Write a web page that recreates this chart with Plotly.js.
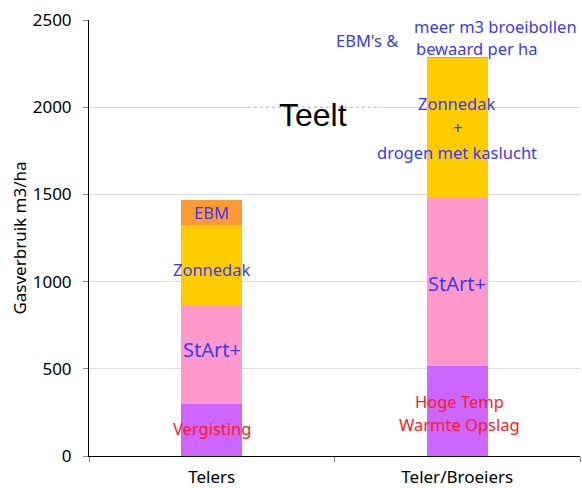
<!DOCTYPE html>
<html>
<head>
<meta charset="utf-8">
<script src="https://cdn.plot.ly/plotly-3.0.1.min.js"></script>
<style>html,body{margin:0;padding:0;background:#fff;}#chart{width:582px;height:488px;}</style>
</head>
<body>
<div id="chart"></div>
<script>
// Data
const categories = ['Telers', 'Teler/Broeiers'];
const basis = [300, 515];        // Vergisting / Hoge Temp Warmte Opslag
const startPlus = [560, 965];    // StArt+
const zonnedak = [465, 805];     // Zonnedak (+ drogen met kaslucht)
const ebm = [145, 5];            // EBM / EBM's & meer m3 broeibollen
const yTicks = [0, 500, 1000, 1500, 2000, 2500];

const FONT = 'Noto Sans, Open Sans, sans-serif';
const BLUE = '#3a3af5';
const RED = '#ff1a1a';

function bar(name, vals, color) {
  return {type: 'bar', name: name, x: categories, y: vals, width: 0.25,
    marker: {color: color, line: {width: 0}}, hoverinfo: 'skip'};
}

const data = [
  bar('Basis', basis, '#cc66ff'),
  bar('StArt+', startPlus, '#ff99cc'),
  bar('Zonnedak', zonnedak, '#ffcc00'),
  bar('EBM', ebm, '#ff9933')
];

function ann(text, x, y, size, color, opts) {
  return Object.assign({text: text, x: x, y: y, xref: 'x', yref: 'y', showarrow: false,
    font: {family: FONT, size: size, color: color}}, opts || {});
}

const annotations = [
  ann('EBM', 0, 1399, 16.5, BLUE),
  ann('Zonnedak', 0, 1067, 16.5, BLUE),
  ann('StArt+', 0, 608, 20, BLUE),
  ann('Vergisting', 0, 155, 16.5, RED),
  ann('Hoge Temp', 1.01, 310, 16.5, RED),
  ann('Warmte Opslag', 1.01, 183, 16.5, RED),
  ann('StArt+', 1.0, 992, 20, BLUE),
  ann('Zonnedak', 1.0, 2020, 16.5, BLUE),
  ann('+', 1.0, 1881, 16.5, BLUE),
  ann('drogen met kaslucht', 1.0, 1743, 16.5, BLUE),
  ann("EBM's &amp;", 0.635, 2380, 16.5, BLUE),
  ann('meer m3 broeibollen', 1.157, 2460, 16.5, BLUE),
  ann('bewaard per ha', 0.823, 2334, 16.5, BLUE, {xanchor: 'left'}),
  ann('Teelt', 0.413, 1953, 32, '#000', {font: {family: 'Liberation Sans, Arial, sans-serif', size: 32, color: '#000'}})
];

const layout = {
  width: 582, height: 488,
  margin: {l: 89, r: 2, t: 20, b: 32, pad: 0},
  paper_bgcolor: '#fff', plot_bgcolor: '#fff',
  barmode: 'stack',
  showlegend: false,
  font: {family: FONT, size: 17, color: '#000'},
  xaxis: {
    type: 'category', range: [-0.5, 1.5], tickson: 'boundaries',
    ticks: 'outside', ticklen: 5, tickcolor: '#888', tickwidth: 1,
    showline: true, linecolor: '#000', linewidth: 1,
    showgrid: false, zeroline: false,
    tickfont: {family: FONT, size: 17, color: '#000'},
    ticklabelstandoff: 6, automargin: false
  },
  yaxis: {
    range: [0, 2500], tickvals: yTicks, ticktext: yTicks.map(String),
    ticks: 'outside', ticklen: 5, tickcolor: '#888', tickwidth: 1,
    showline: true, linecolor: '#000', linewidth: 1,
    showgrid: true, gridcolor: '#dcdcdc', gridwidth: 1, zeroline: false,
    tickfont: {family: FONT, size: 17, color: '#000'},
    ticklabelstandoff: 8,
    title: {text: 'Gasverbruik m3/ha', font: {family: FONT, size: 17, color: '#000'}, standoff: 1},
    automargin: false
  },
  annotations: annotations,
  shapes: [
    {type: 'line', xref: 'x', yref: 'y', x0: 0.147, x1: 0.676, y0: 2000, y1: 2000,
      line: {color: '#ffffff', width: 2}, layer: 'above'},
    {type: 'line', xref: 'x', yref: 'y', x0: 0.147, x1: 0.676, y0: 2000, y1: 2000,
      line: {color: '#b0b0b0', width: 1, dash: 'dot'}, layer: 'above'}
  ]
};

Plotly.newPlot('chart', data, layout, {displayModeBar: false, staticPlot: true});
</script>
</body>
</html>
